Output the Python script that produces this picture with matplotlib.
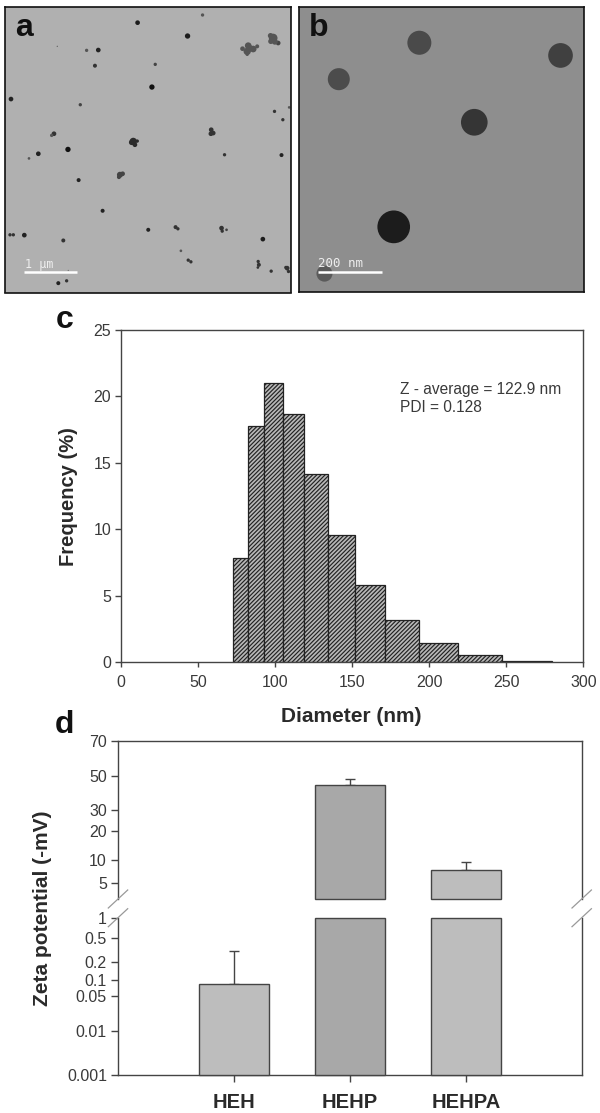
import matplotlib as mpl
mpl.use("Agg")
import matplotlib.pyplot as plt
import numpy as np
from matplotlib.lines import Line2D
from matplotlib.patches import Circle

plt.rcParams["font.family"] = ["Liberation Sans", "DejaVu Sans"]
plt.rcParams["hatch.linewidth"] = 0.85

W, H = 600, 1113
INK = "#444444"
TXT = "#3a3a3a"

# (a) micrograph particles: x, y, radius, grey (in crop coordinates)
particles_a = [
    (413, 69, 7, "#1c1c1c"), (563, 109, 8, "#1c1c1c"), (608, 46, 5, "#555555"), (295, 151, 7, "#222222"),
    (260, 152, 5, "#555555"), (172, 140, 2, "#666666"), (466, 194, 5, "#444444"), (285, 198, 6, "#333333"),
    (456, 262, 8, "#111111"), (33, 298, 7, "#222222"), (241, 315, 5, "#444444"), (824, 335, 5, "#333333"),
    (849, 360, 5, "#333333"), (868, 323, 4, "#555555"), (204, 449, 8, "#111111"), (115, 462, 7, "#222222"),
    (87, 476, 4, "#555555"), (674, 465, 5, "#333333"), (845, 466, 6, "#222222"), (236, 541, 6, "#222222"),
    (308, 633, 6, "#222222"), (445, 690, 6, "#222222"), (789, 718, 7, "#1c1c1c"), (73, 706, 7, "#222222"),
    (190, 722, 6, "#333333"), (543, 753, 4, "#555555"), (814, 814, 5, "#333333"), (175, 850, 6, "#222222"),
    (200, 843, 5, "#333333"), (205, 812, 2, "#777777"),
    (30, 705, 5, "#333333"), (40, 705, 5, "#333333"), (162, 402, 7, "#333333"), (155, 407, 5, "#555555"),
    (527, 682, 6, "#333333"), (534, 687, 5, "#333333"), (565, 781, 5, "#333333"), (573, 786, 5, "#333333"),
    (775, 785, 5, "#333333"), (777, 795, 6, "#333333"), (774, 803, 4, "#333333"), (862, 805, 7, "#333333"),
    (866, 815, 5, "#333333"), (858, 803, 5, "#333333"), (665, 685, 7, "#333333"), (680, 690, 4, "#444444"),
    (667, 694, 5, "#333333"), (634, 390, 7, "#333333"), (640, 400, 7, "#333333"), (633, 402, 7, "#333333"),
    (400, 425, 11, "#2c2c2c"), (405, 435, 7, "#2c2c2c"), (395, 428, 8, "#2c2c2c"), (412, 424, 5, "#2c2c2c"),
    (360, 525, 9, "#444444"), (368, 522, 7, "#444444"), (357, 532, 6, "#444444"),
    (728, 147, 7, "#555555"), (745, 138, 10, "#555555"), (760, 148, 10, "#555555"), (742, 155, 11, "#555555"),
    (772, 140, 6, "#555555"), (750, 146, 10, "#555555"), (742, 164, 5, "#555555"),
    (820, 115, 13, "#555555"), (812, 108, 8, "#555555"), (835, 130, 7, "#444444"), (825, 126, 9, "#555555"),
    (813, 125, 8, "#555555"),
]

# (b) micrograph particles
particles_b = [
    (373, 129, 36, "#4a4a4a"), (131, 238, 33, "#4c4c4c"), (797, 167, 37, "#404040"),
    (538, 367, 40, "#353535"), (296, 680, 49, "#1c1c1c"), (88, 820, 24, "#5a5a5a"),
]

# (c) size distribution
bin_edges = [72.5, 82.4, 92.8, 105.1, 118.8, 134.1, 151.8, 171.3, 193.6, 218.5, 247.0, 279.5]
frequency = [7.8, 17.8, 21.0, 18.7, 14.15, 9.55, 5.8, 3.15, 1.45, 0.5, 0.05]
freq_ticks = [0, 5, 10, 15, 20, 25]
diam_ticks = [0, 50, 100, 150, 200, 250, 300]

# (d) zeta potential
samples = ["HEH", "HEHP", "HEHPA"]
zeta_mean = [0.085, 43.5, 7.33]
zeta_err = [0.22, 4.3, 2.0]
zeta_colors = ["#bdbdbd", "#a8a8a8", "#bdbdbd"]

# the zeta axis is uneven, so it is calibrated on where its ticks sit
upper_ticks = [3.1, 5, 10, 20, 30, 50, 70]
upper_labels = ["5", "10", "20", "30", "50", "70"]
upper_rows = [899, 883, 860, 830.7, 810, 775.7, 741]
lower_ticks = [0.001, 0.01, 0.05, 0.1, 0.2, 0.5, 1]
lower_labels = ["0.001", "0.01", "0.05", "0.1", "0.2", "0.5", "1"]
lower_rows = [1075, 1031, 996, 980, 962, 937.7, 917.7]


def ax_px(left, top, right, bottom):
    return fig.add_axes([left / W, 1 - bottom / H, (right - left) / W, (bottom - top) / H])


def fig_text(x, y, s, **kw):
    fig.text(x / W, 1 - y / H, s, ha=kw.pop("ha", "center"), va=kw.pop("va", "center"), **kw)


def tick_scale(ticks, rows):
    lv = np.log10(ticks)
    hv = -np.array(rows, dtype=float)

    def forward(v):
        return np.interp(np.log10(np.clip(v, 1e-9, None)), lv, hv)

    def inverse(h):
        return 10 ** np.interp(h, hv, lv)

    return forward, inverse


def micrograph(box, xlim, ylim, bg, parts):
    ax = ax_px(*box)
    ax.set_facecolor(bg)
    ax.set_xlim(*xlim)
    ax.set_ylim(*ylim)
    ax.set_xticks([])
    ax.set_yticks([])
    for s in ax.spines.values():
        s.set_linewidth(1.2)
        s.set_color("#111111")
    for x, y, r, c in parts:
        ax.add_patch(Circle((x, y), r, fc=c, ec="none"))
    return ax


fig = plt.figure(figsize=(W / 100, H / 100), dpi=100)

ax_a = micrograph((5, 7, 290.5, 292.5), (15, 872), (878, 22), "#b0b0b0", particles_a)
ax_a.plot([72, 232], [817, 817], color="white", lw=1.8, solid_capstyle="butt")
ax_a.text(118, 795, "1 µm", color="#eeeeee", family="DejaVu Sans Mono", fontsize=8.5, ha="center", va="center")

ax_b = micrograph((298.5, 7, 583.5, 292), (10, 866), (875, 22), "#8e8e8e", particles_b)
ax_b.plot([70, 262], [814, 814], color="white", lw=1.8, solid_capstyle="butt")
ax_b.text(137, 790, "200 nm", color="#eeeeee", family="DejaVu Sans Mono", fontsize=9, ha="center", va="center")

# histogram
ax_c = ax_px(121, 330, 583.3, 662)
ax_c.bar(bin_edges[:-1], frequency, width=np.diff(bin_edges), align="edge",
         facecolor="#b8b8b8", edgecolor="#222222", hatch="////////", linewidth=0.9)
ax_c.set_xlim(0, 300)
ax_c.set_ylim(0, 25)
ax_c.set_xticks(diam_ticks)
ax_c.set_yticks(freq_ticks)
ax_c.tick_params(axis="x", length=3.5, width=1, color=INK, labelcolor=TXT, labelsize=11.5, pad=6)
ax_c.tick_params(axis="y", length=4, width=1, color=INK, labelcolor=TXT, labelsize=11.5, pad=3)
for s in ax_c.spines.values():
    s.set_linewidth(1.0)
    s.set_color(INK)
ax_c.text(181, 20.5, "Z - average = 122.9 nm", fontsize=11.2, color=TXT, va="center")
ax_c.text(181, 19.2, "PDI = 0.128", fontsize=11.2, color=TXT, va="center")

# broken zeta potential axis
ax_up = ax_px(118, 741, 581.7, 899)
ax_lo = ax_px(118, 917.7, 581.7, 1075)
ax_up.set_yscale("function", functions=tick_scale(upper_ticks, upper_rows))
ax_lo.set_yscale("function", functions=tick_scale(lower_ticks, lower_rows))
ax_up.set_ylim(upper_ticks[0], upper_ticks[-1])
ax_lo.set_ylim(lower_ticks[0], lower_ticks[-1])

x = np.arange(1, len(samples) + 1)
for i, (m, e, c) in enumerate(zip(zeta_mean, zeta_err, zeta_colors)):
    ax_lo.bar(x[i], min(m, 1) - lower_ticks[0], bottom=lower_ticks[0], width=0.6, facecolor=c,
              edgecolor=INK, linewidth=1.0, clip_on=False, zorder=3)
    target = ax_lo if m < 1 else ax_up
    if m >= 1:
        ax_up.bar(x[i], m - upper_ticks[0], bottom=upper_ticks[0], width=0.6, facecolor=c,
                  edgecolor=INK, linewidth=1.0, clip_on=False, zorder=3)
    target.errorbar(x[i], m, yerr=[[0], [e]], color=INK, elinewidth=1.0, capsize=3.6, capthick=1.0, zorder=2)

for ax in (ax_up, ax_lo):
    ax.set_xlim(0, 4)
    ax.minorticks_off()
    ax.patch.set_alpha(0)
    for s in ax.spines.values():
        s.set_linewidth(1.0)
        s.set_color(INK)
ax_up.spines["bottom"].set_visible(False)
ax_lo.spines["top"].set_visible(False)
ax_up.set_xticks([])
ax_lo.set_xticks(x, samples, fontweight="bold", fontsize=14.5, color="#2a2a2a")
ax_lo.tick_params(axis="x", length=5, width=1, color=INK, pad=8)
ax_up.set_yticks(upper_ticks[1:], upper_labels)
ax_lo.set_yticks(lower_ticks, lower_labels)
for ax in (ax_up, ax_lo):
    ax.tick_params(axis="y", length=5, width=1, color=INK, labelcolor=TXT, labelsize=11.5, pad=3)

# break marks on both sides
for xb in (118, 581.7):
    for yb in (899, 917.7):
        fig.add_artist(Line2D([(xb - 9.7) / W, (xb + 9.7) / W], [1 - (yb + 9) / H, 1 - (yb - 9) / H],
                              color="#999999", lw=0.9))

fig_text(68, 497, "Frequency (%)", rotation=90, fontweight="bold", fontsize=14.5, color="#2a2a2a")
fig_text(351, 716, "Diameter (nm)", fontweight="bold", fontsize=15, color="#2a2a2a")
fig_text(43, 908, "Zeta potential (-mV)", rotation=90, fontweight="bold", fontsize=15, color="#2a2a2a")

for s, px, py in [("a", 24, 28), ("b", 319, 28), ("c", 65, 320), ("d", 64, 725)]:
    fig_text(px, py, s, fontweight="bold", fontsize=23, color="#111111")

fig.savefig("out.png", dpi=100)
plt.close(fig)
